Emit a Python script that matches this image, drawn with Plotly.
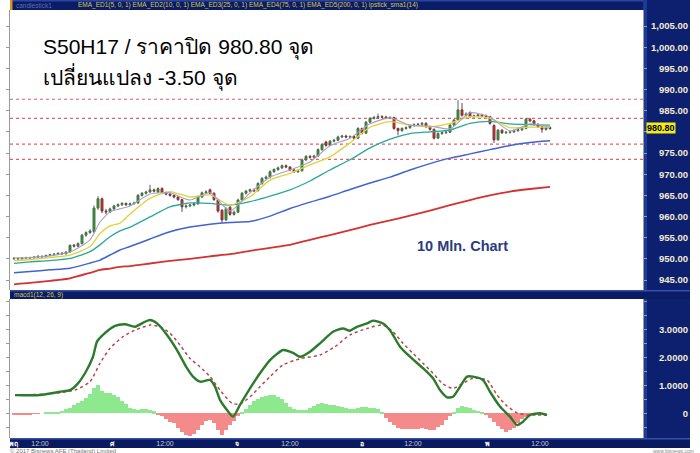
import plotly.graph_objects as go

# ---------------- data ----------------
bar_opens = [950.0, 950.1, 950.0, 950.2, 950.3, 950.2, 950.4, 950.6, 950.5, 950.8,
             951.0, 951.1, 951.3, 951.2, 951.6, 953.2, 953.0, 953.6, 955.6, 956.2,
             956.4, 962.0, 964.2, 961.3, 961.1, 961.8, 962.5, 962.8, 963.1, 962.8,
             963.0, 963.2, 965.0, 965.5, 965.8, 966.3, 965.8, 966.6, 965.6, 965.3,
             965.0, 964.6, 964.0, 962.3, 962.5, 962.7, 963.0, 964.6, 965.6, 966.3,
             965.5, 964.0, 961.5, 959.2, 962.2, 960.5, 961.0, 963.9, 965.5, 966.0,
             966.3, 966.1, 967.8, 969.0, 969.3, 970.6, 971.1, 971.5, 972.0, 971.7,
             971.0, 970.6, 970.8, 973.4, 974.2, 974.0, 974.3, 975.8, 977.6, 976.8,
             977.8, 978.0, 978.8, 979.0, 978.8, 978.9, 978.5, 980.8, 979.7, 982.3,
             983.2, 983.4, 983.6, 983.5, 983.3, 983.4, 980.8, 980.3, 980.8, 981.0,
             981.5, 981.7, 981.8, 982.0, 981.2, 980.6, 978.5, 979.6, 979.8, 979.9,
             981.6, 982.8, 985.2, 983.9, 984.6, 983.6, 983.8, 984.0, 983.8, 983.6,
             981.5, 978.1, 980.4, 979.8, 979.9, 980.0, 980.3, 980.5, 980.8, 983.0,
             982.6, 981.8, 981.2, 980.6, 981.0]
bar_highs = [950.4, 950.3, 950.4, 950.5, 950.5, 950.6, 950.8, 950.8, 951.0, 951.2,
             951.3, 951.5, 951.6, 951.8, 953.4, 953.5, 953.9, 955.9, 956.5, 957.0,
             962.6, 964.8, 964.5, 961.8, 962.1, 962.8, 963.1, 963.4, 963.3, 963.3,
             963.5, 965.3, 965.8, 966.1, 967.5, 966.6, 966.9, 966.9, 965.9, 965.6,
             965.2, 964.8, 964.2, 962.9, 963.0, 963.3, 964.9, 965.9, 966.2, 966.6,
             965.7, 964.2, 961.7, 962.2, 962.4, 961.4, 964.2, 965.8, 966.3, 966.6,
             966.6, 968.1, 969.3, 969.7, 970.9, 971.4, 971.8, 972.3, 972.3, 971.9,
             971.2, 971.1, 973.7, 974.5, 974.5, 974.6, 976.1, 977.3, 977.9, 978.1,
             978.4, 979.1, 979.3, 979.3, 979.2, 979.2, 981.1, 981.0, 982.6, 983.5,
             983.8, 984.3, 983.9, 983.8, 983.7, 983.6, 981.0, 981.1, 981.3, 981.8,
             982.0, 982.1, 982.3, 982.3, 981.4, 980.8, 979.9, 980.1, 980.2, 981.9,
             983.1, 987.5, 986.8, 984.6, 984.8, 984.1, 984.3, 984.3, 984.1, 983.8,
             981.8, 980.7, 980.6, 980.2, 980.3, 980.6, 980.8, 981.1, 983.3, 983.3,
             982.8, 982.0, 981.4, 981.3, 981.3]
bar_lows = [949.8, 949.8, 949.8, 950.0, 950.0, 950.1, 950.2, 950.3, 950.3, 950.6,
            950.8, 950.9, 951.0, 951.0, 951.5, 952.7, 952.8, 953.4, 955.2, 955.9,
            956.0, 961.6, 960.8, 960.6, 960.8, 961.5, 962.2, 962.5, 962.5, 962.5,
            962.8, 963.0, 964.7, 965.2, 965.6, 965.7, 965.5, 965.3, 965.0, 964.7,
            964.3, 963.7, 961.1, 961.9, 962.2, 962.4, 962.8, 964.4, 965.3, 965.2,
            963.7, 960.9, 958.5, 958.9, 960.2, 960.2, 960.8, 963.6, 965.2, 965.7,
            965.8, 965.9, 967.5, 968.7, 969.0, 970.3, 970.8, 971.2, 971.4, 970.7,
            970.3, 970.3, 970.6, 973.1, 973.7, 973.7, 974.1, 975.5, 976.5, 976.6,
            977.5, 977.8, 978.5, 978.5, 978.5, 978.2, 978.3, 979.4, 979.5, 982.0,
            982.9, 983.1, 983.2, 983.0, 983.0, 980.5, 979.2, 980.0, 980.5, 980.7,
            981.2, 981.4, 981.5, 980.9, 980.3, 978.2, 978.3, 979.3, 979.5, 979.7,
            981.4, 982.6, 983.6, 983.6, 983.3, 983.3, 983.5, 983.5, 983.3, 981.7,
            977.4, 977.9, 979.5, 979.5, 979.6, 979.7, 980.0, 980.2, 980.6, 982.3,
            981.5, 980.9, 979.8, 980.3, 980.5]
bar_closes = [950.1, 950.0, 950.2, 950.3, 950.2, 950.4, 950.6, 950.5, 950.8, 951.0,
              951.1, 951.3, 951.2, 951.6, 953.2, 953.0, 953.6, 955.6, 956.2, 956.6,
              962.0, 964.2, 961.3, 961.1, 961.8, 962.5, 962.8, 963.1, 962.8, 963.0,
              963.2, 965.0, 965.5, 965.8, 966.3, 966.0, 966.6, 965.6, 965.3, 965.0,
              964.6, 964.0, 962.3, 962.5, 962.7, 963.0, 964.6, 965.6, 965.8, 965.5,
              964.0, 961.3, 959.2, 961.9, 960.5, 961.0, 963.9, 965.5, 966.0, 966.3,
              966.1, 967.8, 969.0, 969.3, 970.6, 971.1, 971.5, 972.0, 971.7, 971.0,
              970.6, 970.8, 973.4, 974.2, 974.0, 974.3, 975.8, 977.0, 976.8, 977.8,
              978.0, 978.8, 979.0, 978.8, 978.9, 978.5, 980.8, 979.7, 982.3, 983.2,
              983.4, 983.6, 983.5, 983.3, 983.4, 980.8, 980.3, 980.8, 981.0, 981.5,
              981.7, 981.8, 982.0, 981.2, 980.6, 978.5, 979.6, 979.8, 979.9, 981.6,
              982.8, 985.2, 983.9, 984.2, 983.6, 983.8, 984.0, 983.8, 983.6, 982.0,
              978.1, 980.4, 979.8, 979.9, 980.0, 980.3, 980.5, 980.8, 983.0, 982.6,
              981.8, 981.2, 980.6, 981.0, 980.8]
bar_index = list(range(len(bar_closes)))

ema_bar = [0, 4, 9, 14, 19, 21.5, 24, 26.5, 29, 34, 39, 44, 49, 54, 59, 64, 69, 74,
           79, 84, 89, 94, 99, 104, 109, 114, 119, 124, 129, 134]
ema5 = [950.2, 950.3, 950.7, 951.6, 954.5, 958.7, 961.1, 961.8, 962.5, 965.3, 965.6,
        963.9, 965.6, 961.3, 965.6, 969.3, 971.0, 972.9, 976.7, 978.5, 981.9, 983.3,
        981.6, 981.4, 980.7, 984.5, 983.5, 980.2, 981.9, 981.1]
ema10 = [949.6, 949.85, 950.3, 950.9, 952.9, 956.0, 957.8, 958.4, 960.6, 964.3, 965.9,
         964.6, 965.1, 962.7, 964.7, 968.6, 970.2, 972.2, 974.1, 977.4, 981.1, 982.4,
         981.6, 981.2, 982.0, 983.6, 983.2, 981.0, 981.1, 981.1]
ema25 = [948.95, 949.3, 949.6, 950.1, 951.7, 953.3, 955.2, 956.6, 957.5, 959.9, 962.3,
         963.2, 963.1, 962.7, 963.5, 964.8, 966.3, 968.4, 971.0, 973.4, 976.2, 978.3,
         979.6, 980.0, 980.4, 982.0, 982.5, 981.9, 981.7, 981.6]
ema75 = [946.7, 947.0, 947.4, 947.8, 949.0, 949.7, 950.9, 952.1, 952.9, 954.7, 956.4,
         957.5, 958.2, 958.6, 958.8, 960.1, 961.9, 963.4, 964.8, 966.4, 967.9, 969.3,
         971.0, 972.5, 973.8, 974.8, 975.8, 976.8, 977.5, 977.9]
ema200 = [943.99, 944.3, 944.8, 945.4, 946.7, 947.4, 947.7, 948.1, 948.3, 948.9, 949.5,
          950.0, 950.6, 951.1, 951.9, 952.6, 953.3, 954.5, 955.6, 956.8, 958.0, 959.1,
          960.2, 961.4, 962.7, 963.9, 965.0, 965.9, 966.5, 967.0]

support_levels = [987.7, 983.2, 977.1, 973.5]

macd_bar = [0.25, 6.5, 11.5, 14, 16, 17.75, 19.75, 20.75, 22.25, 25.25, 27.75, 30.25,
            32.75, 34, 35.75, 38.25, 40.75, 43.25, 44.75, 46.5, 49, 50.25, 51.5, 53.25,
            54.75, 56.5, 59, 61.5, 64, 67.25, 69.75, 71.5, 74, 76.5, 79.75, 82.25, 84,
            85.75, 88.25, 89.75, 92.25, 94, 96.5, 99, 102.25, 104.75, 106.5, 108.25,
            109.75, 111.5, 113.25, 114.75, 117.25, 119, 121.5, 124, 125.75, 127.25,
            129, 131.5, 133.25]
macd_vals = [0.65, 0.65, 0.77, 0.83, 1.07, 1.43, 2.02, 2.56, 2.8, 3.12, 3.18, 3.09,
             3.27, 3.33, 3.21, 2.8, 2.26, 1.61, 1.31, 1.13, 1.19, 0.95, 0.48, 0.12,
             -0.12, 0.3, 0.89, 1.43, 1.9, 2.26, 2.16, 2.02, 2.2, 2.5, 2.91, 3.03, 2.95,
             3.09, 3.21, 3.31, 3.21, 2.97, 2.38, 2.02, 1.61, 1.25, 0.83, 0.57, 0.59,
             0.95, 1.31, 1.31, 1.19, 0.77, 0.24, -0.12, -0.42, -0.3, -0.06, 0.0, -0.06]
signal_bar = [0.25, 9, 15.25, 19, 21.5, 24, 27.25, 30.25, 34, 36.5, 39, 41.5, 44, 46.5,
              49, 51.5, 54.5, 56.5, 59, 61.5, 64, 67.25, 71.5, 76.5, 80.25, 84, 88.25,
              92.25, 94.75, 97.25, 99.75, 102.25, 104.75, 107.25, 109.75, 112.25,
              114.75, 118.25, 120.75, 123.25, 125.75, 128.25, 130.75, 133.25]
signal_vals = [0.65, 0.7, 0.83, 1.13, 1.79, 2.32, 2.74, 2.97, 3.15, 3.09, 2.86, 2.44,
               1.96, 1.66, 1.31, 0.83, 0.36, 0.33, 0.59, 0.95, 1.31, 1.73, 1.95, 2.08,
               2.38, 2.8, 3.03, 3.15, 2.91, 2.5, 2.14, 1.79, 1.43, 1.05, 0.89, 1.07,
               1.25, 1.19, 0.65, 0.26, 0.02, -0.06, -0.06, -0.06]
hist_vals = [-0.03, -0.03, -0.03, -0.03, -0.03, -0.02, -0.02, 0.0, 0.04, 0.05,
             0.05, 0.06, 0.1, 0.14, 0.2, 0.28, 0.36, 0.45, 0.55, 0.7,
             0.9, 1.01, 0.8, 0.74, 0.72, 0.65, 0.57, 0.45, 0.32, 0.2,
             0.14, 0.12, 0.17, 0.16, 0.12, 0.07, -0.03, -0.1, -0.22, -0.3,
             -0.36, -0.54, -0.65, -0.77, -0.8, -0.75, -0.6, -0.4, -0.28, -0.24,
             -0.35, -0.6, -0.77, -0.6, -0.42, -0.26, -0.1, 0.02, 0.15, 0.3,
             0.44, 0.52, 0.6, 0.62, 0.65, 0.64, 0.58, 0.5, 0.36, 0.24,
             0.16, 0.12, 0.12, 0.12, 0.18, 0.25, 0.32, 0.36, 0.34, 0.3,
             0.3, 0.27, 0.24, 0.2, 0.15, 0.17, 0.2, 0.24, 0.24, 0.2,
             0.18, 0.15, 0.06, -0.15, -0.3, -0.4, -0.52, -0.55, -0.57, -0.57,
             -0.56, -0.55, -0.54, -0.56, -0.6, -0.6, -0.5, -0.4, -0.25, -0.1,
             0.05, 0.18, 0.25, 0.24, 0.18, 0.12, 0.08, 0.04, -0.04, -0.18,
             -0.32, -0.45, -0.55, -0.66, -0.6, -0.52, -0.36, -0.22, -0.12, -0.06,
             -0.03, -0.02, -0.01, 0.0, 0.0]

# 980.00 sits under the last-price flag in the reference, so its text is hidden
price_ticks = [945, 950, 955, 960, 965, 970, 975, 980, 985, 990, 995, 1000, 1005]
price_tick_text = ["945.00", "950.00", "955.00", "960.00", "965.00", "970.00", "975.00",
                   "", "985.00", "990.00", "995.00", "1,000.00", "1,005.00"]
macd_ticks = [0, 1, 2, 3]
macd_tick_text = ["0", "1.0000", "2.0000", "3.0000"]
time_ticks = [-0.1, 6.5, 24.5, 37.75, 55.75, 69, 87, 99.75, 118.25, 131.5]
time_tick_text = ["<b><span style='color:#ffffff'>พฤ</span></b>", "12:00",
                  "<b><span style='color:#ffffff'>ศ</span></b>", "12:00",
                  "<b><span style='color:#ffffff'>จ</span></b>", "12:00",
                  "<b><span style='color:#ffffff'>อ</span></b>", "12:00",
                  "<b><span style='color:#ffffff'>พ</span></b>", "12:00"]

last_close_label = "980.80"
title_line1 = "S50H17 / ราคาปิด 980.80 จุด"
title_line2 = "เปลี่ยนแปลง -3.50 จุด"

# ---------------- layout helpers ----------------
W, H = 700, 453
def fx(p):
    return p / W
def fy(p):
    return 1 - p / H

NAVY = "#0b1c66"
FONT = "Liberation Sans, Arial, Noto Sans, sans-serif"

fig = go.Figure()

ema_styles = [(ema200, "#d43232", 1.8), (ema75, "#3f62d6", 1.5), (ema25, "#2aa79a", 1.3),
              (ema10, "#e2d23a", 1.3), (ema5, "#a8a0c8", 1.1)]
for vals, col, wdt in ema_styles:
    fig.add_trace(go.Scatter(x=ema_bar, y=vals, mode="lines", line=dict(color=col, width=wdt, shape="spline", smoothing=0.6),
                             xaxis="x", yaxis="y", showlegend=False, hoverinfo="skip"))

fig.add_trace(go.Candlestick(x=bar_index, open=bar_opens, high=bar_highs, low=bar_lows, close=bar_closes,
                             increasing=dict(fillcolor="#22a022", line=dict(color="#4d6e4d", width=1)),
                             decreasing=dict(fillcolor="#e02424", line=dict(color="#7a3a3a", width=1)),
                             xaxis="x", yaxis="y", showlegend=False, hoverinfo="skip"))

fig.add_trace(go.Scatter(x=[bar_index[-1]], y=[bar_closes[-1]], mode="markers", marker=dict(opacity=0),
                         xaxis="x", yaxis="y3", showlegend=False, hoverinfo="skip"))

hist_colors = ["#8ee88e" if v >= 0 else "#f58a8a" for v in hist_vals]
fig.add_trace(go.Bar(x=bar_index, y=hist_vals, width=1.0, marker=dict(color=hist_colors, line=dict(width=0)),
                     xaxis="x2", yaxis="y2", showlegend=False, hoverinfo="skip"))
fig.add_trace(go.Scatter(x=signal_bar, y=signal_vals, mode="lines",
                         line=dict(color="#b24848", width=1.5, dash="dot", shape="spline", smoothing=0.6),
                         xaxis="x2", yaxis="y2", showlegend=False, hoverinfo="skip"))
fig.add_trace(go.Scatter(x=macd_bar, y=macd_vals, mode="lines",
                         line=dict(color="#2c7a2c", width=2.4, shape="spline", smoothing=0.6),
                         xaxis="x2", yaxis="y2", showlegend=False, hoverinfo="skip"))
fig.add_trace(go.Scatter(x=[bar_index[-1]], y=[hist_vals[-1]], mode="markers", marker=dict(opacity=0),
                         xaxis="x2", yaxis="y4", showlegend=False, hoverinfo="skip"))

x_dom = [fx(10), fx(643)]
x_rng = [-1, 157.25]
p_rng = [942.64, 1008.79]
m_rng = [-0.882, 4.082]
tickfont = dict(family=FONT, size=9.5, color="#f2ecd2", weight="bold")

shapes = []
def rect(x0, y0, x1, y1, color, layer="below"):
    shapes.append(dict(type="rect", xref="paper", yref="paper", x0=fx(x0), x1=fx(x1), y0=fy(y1), y1=fy(y0),
                       fillcolor=color, line=dict(width=0), layer=layer))

rect(10, 0, 690, 10, NAVY)
rect(10, 0, 690, 1.5, "#2b44a0")
rect(10, 0, 12.5, 10, "#d8921e")
rect(643, 0, 690, 443, "#0d2070")
rect(643, 0, 647, 443, "#1c3a96")
rect(10, 290, 690, 299, NAVY)
rect(10, 290, 690, 291.5, "#3550a8")
rect(10, 438, 690, 448, "#0a1a5e")
rect(10, 438, 690, 439.5, "#3550a8")
for lvl in support_levels:
    shapes.append(dict(type="line", xref="paper", yref="y", x0=fx(10), x1=fx(643), y0=lvl, y1=lvl,
                       line=dict(color="#e4606a", width=1.2, dash="dot"), layer="below"))

annotations = [
    dict(text=title_line1, x=fx(41), y=fy(48), xref="paper", yref="paper", xanchor="left", yanchor="middle",
         showarrow=False, font=dict(family=FONT, size=21, color="#000000")),
    dict(text=title_line2, x=fx(41), y=fy(77), xref="paper", yref="paper", xanchor="left", yanchor="middle",
         showarrow=False, font=dict(family=FONT, size=21, color="#000000")),
    dict(text="10 Mln. Chart", x=fx(462), y=fy(246), xref="paper", yref="paper", xanchor="center", yanchor="middle",
         showarrow=False, font=dict(family=FONT, size=14.5, color="#2b3b80", weight="bold")),
    dict(text="candlestick1", x=fx(14), y=fy(5.5), xref="paper", yref="paper", xanchor="left", yanchor="middle",
         showarrow=False, font=dict(family=FONT, size=6.5, color="#5e6ea8")),
    dict(text="EMA_ED1(5, 0, 1) EMA_ED2(10, 0, 1) EMA_ED3(25, 0, 1) EMA_ED4(75, 0, 1) EMA_ED5(200, 0, 1) ipstick_sma1(14)",
         x=fx(76), y=fy(5.5), xref="paper", yref="paper", xanchor="left", yanchor="middle",
         showarrow=False, font=dict(family=FONT, size=6.5, color="#d6c646")),
    dict(text="macd1(12, 26, 9)", x=fx(12), y=fy(295), xref="paper", yref="paper", xanchor="left", yanchor="middle",
         showarrow=False, font=dict(family=FONT, size=6.5, color="#d6c646")),
    dict(text=last_close_label, x=fx(646), y=bar_closes[-1], xref="paper", yref="y", xanchor="left", yanchor="middle",
         showarrow=False, bgcolor="#f4ee10", borderpad=0,
         font=dict(family=FONT, size=9, color="#000000", weight="bold")),
    dict(text="© 2017 Bisnews AFE (Thailand) Limited", x=fx(8), y=fy(451), xref="paper", yref="paper",
         xanchor="left", yanchor="middle", showarrow=False, font=dict(family=FONT, size=6, color="#777777")),
    dict(text="www.bisnews.com", x=fx(696), y=fy(451), xref="paper", yref="paper",
         xanchor="right", yanchor="middle", showarrow=False, font=dict(family=FONT, size=5, color="#888888")),
]

axis_common = dict(showgrid=False, zeroline=False)
fig.update_layout(
    width=W, height=H, margin=dict(l=0, r=0, t=0, b=0),
    paper_bgcolor="#ffffff", plot_bgcolor="rgba(0,0,0,0)",
    hovermode=False, showlegend=False, bargap=0,
    xaxis=dict(domain=x_dom, range=x_rng, anchor="y", showticklabels=False, ticks="",
               rangeslider=dict(visible=False), **axis_common),
    yaxis=dict(domain=[fy(290), fy(10)], range=p_rng, anchor="x", side="right", showticklabels=False,
               tickvals=price_ticks, ticks="outside", ticklen=3, tickcolor="#9a9a9a",
               showline=True, linecolor="#9a9a9a", linewidth=1, mirror="ticks", **axis_common),
    yaxis3=dict(overlaying="y", anchor="free", position=fx(689), side="left", range=p_rng,
                tickvals=price_ticks, ticktext=price_tick_text, ticks="", showline=False,
                tickfont=tickfont, ticklabelstandoff=1, **axis_common),
    xaxis2=dict(domain=x_dom, range=x_rng, anchor="y2", matches="x", ticks="", showline=False,
                tickvals=time_ticks, ticktext=time_tick_text,
                tickfont=dict(family=FONT, size=7, color="#c4c8d8"), ticklabelstandoff=0, **axis_common),
    yaxis2=dict(domain=[fy(438), fy(299)], range=m_rng, anchor="x2", side="right", showticklabels=False,
                tickvals=[-0.5, 0, 0.5, 1, 1.5, 2, 2.5, 3, 3.5, 4], ticks="outside", ticklen=3, tickcolor="#9a9a9a",
                showline=True, linecolor="#9a9a9a", linewidth=1, mirror="ticks", **axis_common),
    yaxis4=dict(overlaying="y2", anchor="free", position=fx(689), side="left", range=m_rng,
                tickvals=macd_ticks, ticktext=macd_tick_text, ticks="", showline=False,
                tickfont=tickfont, ticklabelstandoff=1, **axis_common),
    shapes=shapes, annotations=annotations,
)

fig.write_html("out.html", config={"displayModeBar": False},
               post_script="document.body.style.margin='0';")
